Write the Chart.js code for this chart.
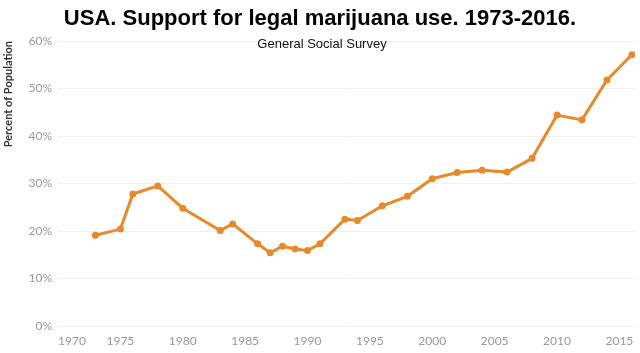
<!DOCTYPE html>
<html>
<head>
<meta charset="utf-8">
<script src="https://cdn.jsdelivr.net/npm/chart.js@4"></script>
<style>
  html, body { margin: 0; padding: 0; background: #fff; }
  #wrap { position: relative; width: 640px; height: 353px; }
  #title {
    position: absolute; left: 0; top: 5px; width: 640px; text-align: center;
    font: bold 22px "Liberation Sans", Arial, sans-serif; color: #000;
  }
  #subtitle {
    position: absolute; left: 2px; top: 36px; width: 640px; text-align: center;
    font: 13px "Liberation Sans", Arial, sans-serif; color: #111;
  }
</style>
</head>
<body>
<div id="wrap">
  <canvas id="chart" width="640" height="353"></canvas>
  <div id="title">USA. Support for legal marijuana use. 1973-2016.</div>
  <div id="subtitle">General Social Survey</div>
</div>
<script>
// survey years and share supporting legal use (%)
const years = [1973, 1975, 1976, 1978, 1980, 1983, 1984, 1986, 1987, 1988, 1989, 1990, 1991,
               1993, 1994, 1996, 1998, 2000, 2002, 2004, 2006, 2008, 2010, 2012, 2014, 2016];
const support = [19.1, 20.4, 27.8, 29.5, 24.8, 20.1, 21.5, 17.3, 15.4, 16.8, 16.2, 15.9, 17.3,
                 22.5, 22.2, 25.3, 27.3, 31.0, 32.3, 32.8, 32.4, 35.3, 44.4, 43.4, 51.8, 57.1];
const xTicks = [1970, 1975, 1980, 1985, 1990, 1995, 2000, 2005, 2010, 2015];
const yTicks = [0, 10, 20, 30, 40, 50, 60];

const X_MIN = 1970, X_MAX = 2016.25;

const ctx = document.getElementById('chart').getContext('2d');

new Chart(ctx, {
    type: 'line',
    data: {
        datasets: [{
            label: 'Support',
            data: years.map((y, i) => ({ x: y, y: support[i] })),
            borderColor: '#E8892B',
            backgroundColor: '#E8892B',
            borderWidth: 3,
            pointRadius: 2,
            pointHoverRadius: 2,
            tension: 0
        }]
    },
    options: {
        responsive: false,
        animation: false,
        layout: { padding: { top: 41, right: 0, left: 0, bottom: 0 } },
        plugins: {
            legend: { display: false },
            tooltip: { enabled: false }
        },
        scales: {
            x: {
                type: 'linear',
                min: X_MIN,
                max: X_MAX,
                // tick gap comes from tickLength (grid hidden) so no side padding is added
                grid: { display: false, drawTicks: true, tickLength: 8 },
                border: { display: false },
                afterBuildTicks: (scale) => {
                    // tick every 5 years, plus a blank one at the right edge
                    scale.ticks = xTicks.map(v => ({ value: v })).concat([{ value: X_MAX }]);
                },
                afterFit: (scale) => { scale.height = 27; },
                ticks: {
                    align: 'inner',
                    padding: 0,
                    color: '#999',
                    font: { family: 'Lato', size: 12 },
                    maxRotation: 0,
                    autoSkip: false,
                    callback: (v) => xTicks.includes(v) ? String(v) : ''
                }
            },
            y: {
                min: 0,
                max: 60,
                afterBuildTicks: (scale) => {
                    scale.ticks = yTicks.map(v => ({ value: v }));
                },
                afterFit: (scale) => { scale.width = 58; },
                grid: { color: '#f0f0f0', drawTicks: false },
                border: { display: false },
                ticks: {
                    padding: 6,
                    color: '#999',
                    font: { family: 'Lato', size: 12 },
                    callback: (v) => v + '%'
                },
                title: {
                    display: true,
                    text: 'Percent of Population',
                    align: 'end',
                    color: '#333',
                    font: { family: 'Lato', size: 11, weight: 'bold' },
                    padding: { top: 2, bottom: 0 }
                }
            }
        }
    }
});
</script>
</body>
</html>
